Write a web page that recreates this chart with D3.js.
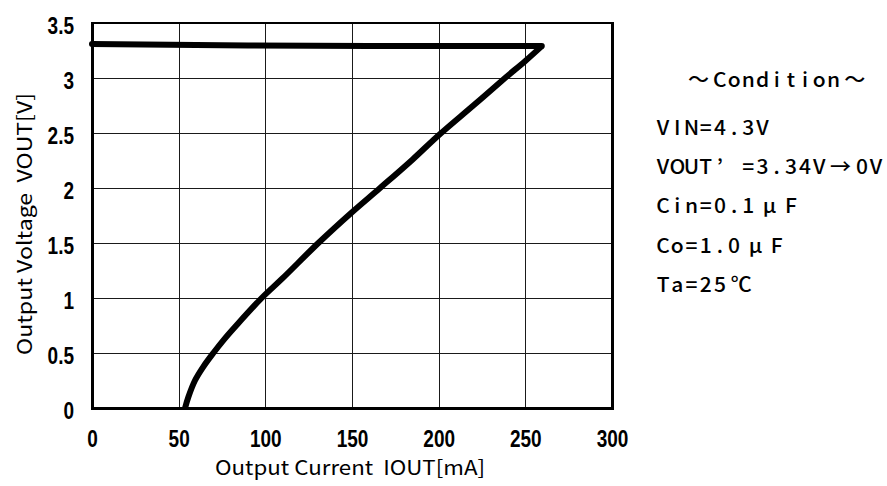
<!DOCTYPE html>
<html><head><meta charset="utf-8">
<script src="https://cdn.jsdelivr.net/npm/d3@7"></script>
<style>body{margin:0;background:#fff}</style></head>
<body>
<svg id="chart" width="887" height="486"></svg>
<script>
// ---- data ----
const xTickValues = [0, 50, 100, 150, 200, 250, 300];
const xTickLabels = ["0", "50", "100", "150", "200", "250", "300"];
const yTickValues = [0, 0.5, 1, 1.5, 2, 2.5, 3, 3.5];
const yTickLabels = ["0", "0.5", "1", "1.5", "2", "2.5", "3", "3.5"];
// flat part: output current [mA] vs output voltage [V] as load increases
const flatCurrentMA = [0, 30, 90, 160, 220, 259.5];
const flatVoltageV  = [3.31, 3.305, 3.295, 3.29, 3.29, 3.29];
// foldback part: from the peak current back down to short circuit
const foldCurrentMA = [259.5, 250, 238.3, 220, 200, 185, 166.2, 150, 130.6, 110, 97.9, 83.5, 76, 70, 64, 59.4, 55.6, 53.7];
const foldVoltageV  = [3.29, 3.155, 3.0, 2.75, 2.48, 2.26, 2.0, 1.78, 1.5, 1.18, 1.0, 0.755, 0.62, 0.5, 0.37, 0.25, 0.1, 0];
const xTitle = "Output Current  IOUT[mA]";
const yTitle = "Output Voltage  VOUT[V]";
const conditionLines = ["\u3000～Condition～", "VIN=4.3V", "VOUT’ =3.34V→0V", "Cin=0.1μF", "Co=1.0μF", "Ta=25℃"];

// ---- layout ----
const svg = d3.select("#chart");
const L = 92, R = 612, T = 23, B = 408;
const x = d3.scaleLinear().domain([0, 300]).range([L, R]);
const y = d3.scaleLinear().domain([0, 3.5]).range([B, T]);

// grid
const grid = svg.append("g").attr("stroke", "#1a1a1a").attr("stroke-width", 1).attr("shape-rendering", "crispEdges");
grid.selectAll("line.v").data(xTickValues.slice(1, -1)).join("line")
  .attr("x1", d => Math.round(x(d)) + 0.5).attr("x2", d => Math.round(x(d)) + 0.5)
  .attr("y1", T).attr("y2", B);
grid.selectAll("line.h").data(yTickValues.slice(1, -1)).join("line")
  .attr("y1", d => Math.round(y(d)) + 0.5).attr("y2", d => Math.round(y(d)) + 0.5)
  .attr("x1", L).attr("x2", R);

// frame
const frame = svg.append("g").attr("stroke", "#000").attr("shape-rendering", "crispEdges");
frame.append("line").attr("x1", L - 1.5).attr("x2", R + 1.5).attr("y1", T).attr("y2", T).attr("stroke-width", 2);
frame.append("line").attr("x1", L - 1.5).attr("x2", R + 1.5).attr("y1", B).attr("y2", B).attr("stroke-width", 3);
frame.append("line").attr("x1", L).attr("x2", L).attr("y1", T).attr("y2", B + 1.5).attr("stroke-width", 3);
frame.append("line").attr("x1", R).attr("x2", R).attr("y1", T).attr("y2", B + 1.5).attr("stroke-width", 3);

// axes (labels only) - tall narrow bold digits
const tickFont = "'Liberation Sans',Arial,sans-serif";
const xAxis = d3.axisBottom(x).tickValues(xTickValues).tickSize(0).tickPadding(0)
  .tickFormat((d, i) => xTickLabels[i]);
const gx = svg.append("g").attr("transform", `translate(0,${B})`).call(xAxis);
gx.select(".domain").remove();
gx.selectAll("text").attr("dy", null).attr("y", 0)
  .attr("transform", "translate(0,39) scale(0.95,1.17)")
  .attr("font-family", tickFont).attr("font-weight", "bold").attr("font-size", 20).attr("fill", "#000");

const yAxis = d3.axisLeft(y).tickValues(yTickValues).tickSize(0).tickPadding(0)
  .tickFormat((d, i) => yTickLabels[i]);
const gy = svg.append("g").attr("transform", `translate(74,0)`).call(yAxis);
gy.select(".domain").remove();
gy.selectAll("text").attr("dy", null).attr("x", 0).attr("y", 0)
  .attr("transform", "translate(0,10) scale(0.95,1.17)")
  .attr("font-family", tickFont).attr("font-weight", "bold").attr("font-size", 20).attr("fill", "#000");

// titles
const titleFont = "'Noto Sans CJK JP','Noto Sans',sans-serif";
svg.append("text").attr("x", 350).attr("y", 475).attr("text-anchor", "middle")
  .attr("font-family", titleFont).attr("font-size", 20).attr("fill", "#000")
  .style("white-space", "pre").attr("xml:space", "preserve")
  .attr("textLength", 270).attr("lengthAdjust", "spacingAndGlyphs").text(xTitle);
svg.append("text").attr("transform", "translate(32,224) rotate(-90)").attr("text-anchor", "middle")
  .attr("font-family", titleFont).attr("font-size", 20).attr("fill", "#000")
  .style("white-space", "pre").attr("xml:space", "preserve")
  .attr("textLength", 262).attr("lengthAdjust", "spacingAndGlyphs").text(yTitle);

// curve
const line = d3.line().x(d => x(d[0])).y(d => y(d[1]));
const flatPts = flatCurrentMA.map((c, i) => [c, flatVoltageV[i]]);
const foldPts = foldCurrentMA.map((c, i) => [c, foldVoltageV[i]]);
svg.append("path").datum(flatPts)
  .attr("d", line.curve(d3.curveLinear))
  .attr("fill", "none").attr("stroke", "#000").attr("stroke-width", 6)
  .attr("stroke-linejoin", "round").attr("stroke-linecap", "round");
svg.append("path").datum(foldPts)
  .attr("d", line.curve(d3.curveCatmullRom.alpha(0.5)))
  .attr("fill", "none").attr("stroke", "#000").attr("stroke-width", 6)
  .attr("stroke-linejoin", "round").attr("stroke-linecap", "butt");

// condition text in monospaced half/full-width cells
const cell = 14.2, cx0 = 656, sx = 1.05;
const baselines = [87, 135, 174, 213, 253, 292];
const halfWidth = ch => ch.charCodeAt(0) <= 0x7f || ch === "’";
conditionLines.forEach((ln, li) => {
  const t = svg.append("text").attr("transform", `translate(${cx0},${baselines[li]}) scale(${sx},1)`)
    .attr("font-family", "'Noto Sans CJK JP',sans-serif").attr("font-weight", 500)
    .attr("font-size", 20).attr("fill", "#000");
  let c = 0;
  for (const ch of ln) {
    const w = halfWidth(ch) ? 1 : 2;
    if (ch !== " " && ch !== "\u3000") {
      t.append("tspan").attr("x", (c + w / 2) * cell / sx).attr("y", 0).attr("text-anchor", "middle").text(ch);
    }
    c += w;
  }
});
</script>
</body></html>
